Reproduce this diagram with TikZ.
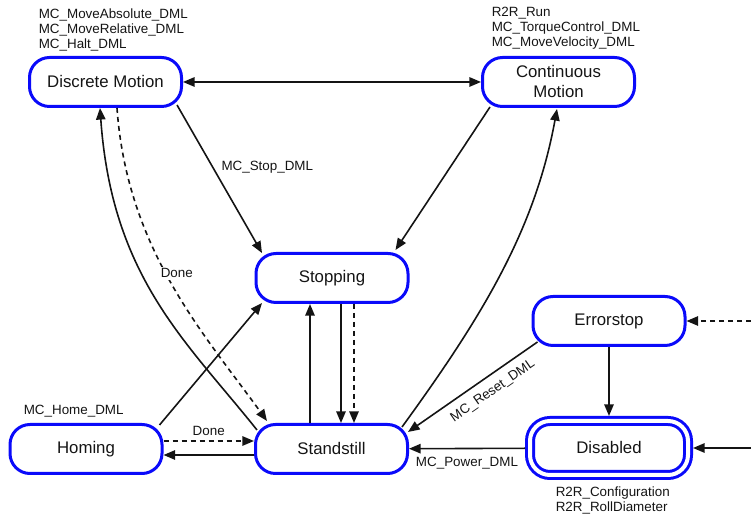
\documentclass[tikz,border=0pt]{standalone}
\usepackage{fontspec}
\setmainfont{Liberation Sans}
\usepackage{tikz}
\usetikzlibrary{arrows.meta,calc}
\usepackage{xcolor}
\definecolor{stateblue}{RGB}{10,10,250}
\definecolor{edgeblack}{RGB}{20,20,20}

\begin{document}
\begin{tikzpicture}[x=0.5pt, y=-0.5pt,
    >={Triangle[length=5.8pt,width=4.7pt]},
    state/.style={draw=stateblue, line width=1.5pt, rounded corners=10pt,
      minimum width=76pt, minimum height=24.5pt, align=center,
      font=\fontsize{8.4}{10}\selectfont},
    lbl/.style={font=\fontsize{6.7}{7.4}\selectfont, inner sep=1pt, align=left},
    every path/.append style={line width=0.8pt, edgeblack},
    dline/.style={dash pattern=on 2.5pt off 2pt}]
    \useasboundingbox (0,0) rectangle (751,517);

    % States
    \node[state] (disc) at (105.5,82) {Discrete Motion};
    \node[state] (cont) at (558.5,82) {Continuous\\Motion};
    \node[state] (stop) at (332,278) {Stopping};
    \node[state] (err) at (609,321) {Errorstop};
    \node[state] (home) at (86,449) {Homing};
    \node[state] (still) at (331.5,449) {Standstill};
    \node[state, double=white, double distance=2pt, minimum width=79pt,
      minimum height=27pt, outer sep=2.5pt] (dis) at (609,448) {Disabled};

    % Function blocks next to the states
    \node[lbl, anchor=west] (disclbl) at (36,30)
      {MC\_MoveAbsolute\_DML\\MC\_MoveRelative\_DML\\MC\_Halt\_DML};
    \node[lbl, anchor=west] (contlbl) at (489,28.5)
      {R2R\_Run\\MC\_TorqueControl\_DML\\MC\_MoveVelocity\_DML};
    \node[lbl, anchor=west] (homelbl) at (21,411) {MC\_Home\_DML};
    \node[lbl, anchor=west] (dislbl) at (553,500.5)
      {R2R\_Configuration\\R2R\_RollDiameter};

    % Motion states
    \draw[<->] (disc) -- (cont);
    \draw[->] ($(disc.south east)+(-6,-3)$) --
      node[lbl, right=3pt, pos=0.42] {MC\_Stop\_DML}
      ($(stop.north west)+(7.5,1)$);
    \draw[->] ($(cont.south west)+(9,-1)$) -- ($(stop.north east)+(-14,-2)$);
    \draw[->] ($(still.north east)+(-7,4)$)
      .. controls (482,317) and (535,230) .. ($(cont.south)+(-1.5,1)$);
    \draw[->] ($(still.north west)+(3,7)$)
      .. controls (187,342) and (112,278) .. ($(disc.south)+(-5.5,0)$);
    \draw[->, dline] ($(disc.south)+(11.5,0)$)
      .. controls (127,250) and (205,335) ..
      node[lbl, fill=white, pos=0.46, xshift=5.5pt] {Done}
      ($(still.north west)+(13,-2)$);

    % Homing
    \draw[->] ($(home.north east)+(-4,2)$) -- ($(stop.south west)+(7.5,-1)$);
    \draw[->, dline] ($(home.east)+(0,-8)$) --
      node[lbl, above=1.5pt] {Done} ($(still.west)+(0,-8)$);
    \draw[->] ($(still.west)+(0,6)$) -- ($(home.east)+(0,6)$);

    % Stopping and Standstill
    \draw[->] ($(still.north)+(-21.5,0)$) -- ($(stop.south)+(-22,0)$);
    \draw[->] ($(stop.south)+(9,0)$) -- ($(still.north)+(9.5,0)$);
    \draw[->, dline] ($(stop.south)+(22,0)$) -- ($(still.north)+(22.5,0)$);

    % Error handling
    \draw[->] ($(err.south west)+(6,-5)$) --
      node[lbl, sloped, below=3pt, pos=0.41] {MC\_Reset\_DML}
      ($(still.north east)+(-1,9)$);
    \draw[->] (err.south) -- (dis.north);
    \draw[->] (dis) -- node[lbl, below=3pt] {MC\_Power\_DML} (still);
    \coordinate (errin) at (751,321);
    \coordinate (disin) at (751,448);
    \draw[->, dline] (errin) -- (err.east);
    \draw[->] (disin) -- (dis.east);
\end{tikzpicture}
\end{document}
